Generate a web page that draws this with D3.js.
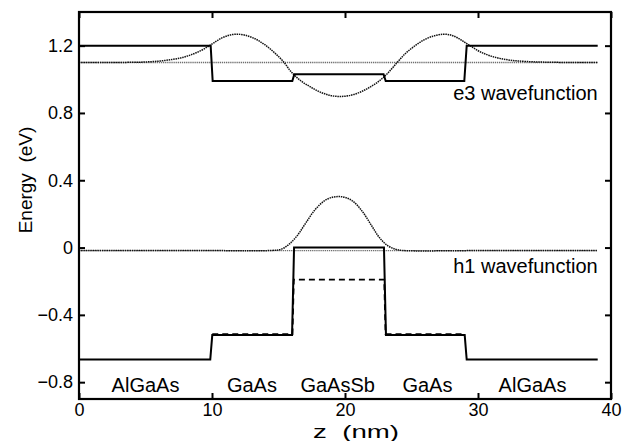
<!DOCTYPE html>
<html>
<head>
<meta charset="utf-8">
<script src="https://cdn.jsdelivr.net/npm/d3@7"></script>
<style>
  html, body { margin: 0; padding: 0; background: #fff; }
  svg { display: block; font-family: "Liberation Sans", Arial, Helvetica, sans-serif; }
</style>
</head>
<body>
<svg id="chart" width="625" height="441"></svg>
<script>
// Band-edge profile of an AlGaAs / GaAs / GaAsSb / GaAs / AlGaAs heterostructure
const zTicks = [0, 10, 20, 30, 40];
const energyTicks = [-0.8, -0.4, 0, 0.4, 0.8, 1.2];

// Conduction band edge (eV) vs z (nm)
const conductionBand = [
  [0, 1.2], [9.9, 1.2], [10.05, 0.99], [16.04, 0.99], [16.19, 1.03],
  [22.9, 1.03], [23.06, 0.99], [28.97, 0.99], [29.15, 1.2], [39, 1.2]
];
// Heavy-hole valence band edge
const valenceBandHH = [
  [0, -0.665], [9.87, -0.665], [10.02, -0.52], [16.02, -0.52], [16.17, 0.0],
  [22.93, 0.0], [23.08, -0.52], [29.0, -0.52], [29.15, -0.665], [39, -0.665]
];
// Light-hole valence band edge (only distinct from heavy-hole inside the wells)
const valenceBandLH = [
  [10.02, -0.515], [16.05, -0.515], [16.15, -0.19],
  [22.95, -0.19], [23.05, -0.515], [29.0, -0.515]
];

// Confined state energies
const e3Level = 1.10;
const h1Level = -0.018;
const levelSpan = [0, 39];

// e3 wavefunction drawn about its energy level
const e3Wave = [
  [0, 1.10], [2, 1.10], [4, 1.101], [5, 1.103], [6, 1.108], [7, 1.118],
  [7.8, 1.13], [8.5, 1.148], [9.2, 1.172], [9.7, 1.195], [10.1, 1.215],
  [10.6, 1.24], [11.2, 1.26], [11.8, 1.268], [12.5, 1.262], [13.3, 1.238],
  [14.0, 1.204], [14.7, 1.158], [15.4, 1.102], [16.0, 1.04], [16.7, 0.99],
  [17.4, 0.955], [18.1, 0.925], [18.9, 0.904], [19.6, 0.898], [20.3, 0.903],
  [21.1, 0.922], [21.8, 0.95], [22.5, 0.986], [23.2, 1.035], [23.9, 1.098],
  [24.5, 1.15], [25.1, 1.19], [25.8, 1.228], [26.6, 1.256], [27.4, 1.268],
  [28.0, 1.262], [28.6, 1.24], [29.1, 1.215], [29.6, 1.19], [30.2, 1.162],
  [30.9, 1.14], [31.7, 1.123], [32.6, 1.112], [33.6, 1.106], [35, 1.102],
  [37, 1.10], [39, 1.10]
];

// h1 wavefunction drawn about its energy level
const h1Wave = [
  [0, -0.018], [10, -0.018], [14.5, -0.017], [15.2, -0.01], [15.8, 0.02],
  [16.4, 0.07], [17.0, 0.14], [17.7, 0.22], [18.4, 0.275], [19.0, 0.298],
  [19.5, 0.303], [20.0, 0.298], [20.6, 0.275], [21.3, 0.215], [22.0, 0.13],
  [22.6, 0.058], [23.2, 0.012], [23.8, -0.01], [24.3, -0.017], [30, -0.018],
  [39, -0.018]
];

// Layer names and their centres (nm)
const layerNames = ["AlGaAs", "GaAs", "GaAsSb", "GaAs", "AlGaAs"];
const layerCentres = [5.0, 13.0, 19.45, 26.2, 34.1];

const stateLabels = ["e3 wavefunction", "h1 wavefunction"];
const stateLabelEnergies = [0.875, -0.152];

const margin = { left: 79, right: 14, top: 12, bottom: 42 };
const W = 625, H = 441;

const svg = d3.select("#chart");
const x = d3.scaleLinear().domain([0, 40]).range([margin.left, W - margin.right]);
const y = d3.scaleLinear().domain([-0.9, 1.4]).range([H - margin.bottom, margin.top]);

const line = d3.line().x(d => x(d[0])).y(d => y(d[1]));
const smooth = d3.line().x(d => x(d[0])).y(d => y(d[1])).curve(d3.curveCatmullRom.alpha(0.5));

const plot = svg.append("g");

// Level lines
plot.selectAll("line.level")
  .data([e3Level, h1Level])
  .join("line")
  .attr("class", "level")
  .attr("x1", x(levelSpan[0])).attr("x2", x(levelSpan[1]))
  .attr("y1", d => y(d)).attr("y2", d => y(d))
  .attr("stroke", "#6e6e6e").attr("stroke-width", 1.4)
  .attr("stroke-dasharray", "1.3,0.8");

// Wavefunctions (dotted)
[e3Wave, h1Wave].forEach(w => {
  plot.append("path")
    .datum(w)
    .attr("d", smooth)
    .attr("fill", "none")
    .attr("stroke", "#111").attr("stroke-width", 1.5)
    .attr("stroke-dasharray", "1.5,0.8");
});

// Light-hole band (dashed)
plot.append("path")
  .datum(valenceBandLH)
  .attr("d", line)
  .attr("fill", "none")
  .attr("stroke", "#000").attr("stroke-width", 1.8)
  .attr("stroke-dasharray", "6,4");

// Conduction and heavy-hole bands (solid)
[conductionBand, valenceBandHH].forEach(b => {
  plot.append("path")
    .datum(b)
    .attr("d", line)
    .attr("fill", "none")
    .attr("stroke", "#000").attr("stroke-width", 2);
});

// Axes with inward ticks
const tickLen = 6;
const yFmt = d => d === 0 ? "0" : d3.format(".1f")(d);

const gx = svg.append("g").attr("transform", `translate(0,${y(-0.9)})`)
  .call(d3.axisBottom(x).tickValues(zTicks).tickSizeInner(-tickLen).tickSizeOuter(0).tickPadding(4.2).tickFormat(d3.format("")));
const gy = svg.append("g").attr("transform", `translate(${x(0)},0)`)
  .call(d3.axisLeft(y).tickValues(energyTicks).tickSizeInner(-tickLen).tickSizeOuter(0).tickPadding(6).tickFormat(yFmt));
const gt = svg.append("g").attr("transform", `translate(0,${y(1.4)})`)
  .call(d3.axisTop(x).tickValues(zTicks).tickSizeInner(-tickLen).tickSizeOuter(0).tickFormat(""));
const gr = svg.append("g").attr("transform", `translate(${x(40)},0)`)
  .call(d3.axisRight(y).tickValues(energyTicks).tickSizeInner(-tickLen).tickSizeOuter(0).tickFormat(""));

[gx, gy, gt, gr].forEach(g => {
  g.select(".domain").remove();
  g.selectAll(".tick line").attr("stroke", "#000").attr("stroke-width", 2);
  g.selectAll(".tick text").attr("fill", "#000").attr("font-size", 18)
    .attr("font-family", "'Liberation Sans', Arial, Helvetica, sans-serif");
});

// Frame
svg.append("rect")
  .attr("x", x(0)).attr("y", y(1.4))
  .attr("width", x(40) - x(0)).attr("height", y(-0.9) - y(1.4))
  .attr("fill", "none").attr("stroke", "#000").attr("stroke-width", 2.2);

// Layer names
svg.selectAll("text.layer")
  .data(layerNames)
  .join("text")
  .attr("class", "layer")
  .attr("x", (d, i) => x(layerCentres[i]))
  .attr("y", 392)
  .attr("text-anchor", "middle")
  .attr("font-size", 20)
  .text(d => d);

// State labels
svg.selectAll("text.state")
  .data(stateLabels)
  .join("text")
  .attr("class", "state")
  .attr("x", x(39))
  .attr("y", (d, i) => y(stateLabelEnergies[i]))
  .attr("text-anchor", "end")
  .attr("font-size", 20)
  .text(d => d);

// Axis titles
svg.append("text")
  .attr("x", 313).attr("y", 437.5)
  .attr("text-anchor", "start")
  .attr("font-size", 19)
  .attr("textLength", 86)
  .attr("lengthAdjust", "spacingAndGlyphs")
  .style("white-space", "pre")
  .text("z  (nm)");

svg.append("text")
  .attr("transform", "translate(32,180) rotate(-90)")
  .attr("text-anchor", "middle")
  .attr("font-size", 19)
  .style("white-space", "pre")
  .text("Energy  (eV)");
</script>
</body>
</html>
